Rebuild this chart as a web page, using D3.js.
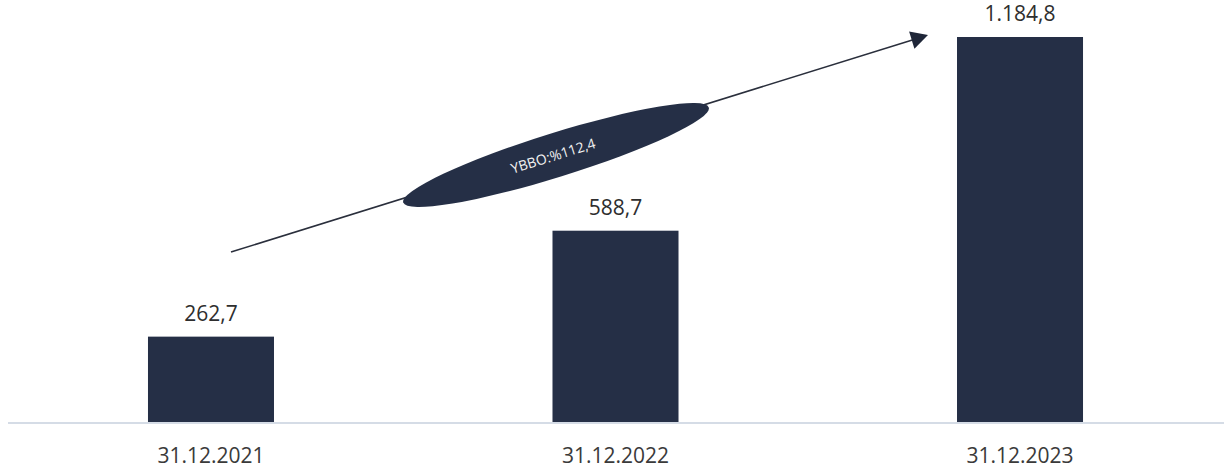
<!DOCTYPE html>
<html>
<head>
<meta charset="utf-8">
<script src="https://cdn.jsdelivr.net/npm/d3@7"></script>
<style>
  html, body { margin: 0; padding: 0; background: #fff; }
  svg { display: block; }
</style>
</head>
<body>
<svg id="chart" width="1229" height="474"></svg>
<script>
// Year-end totals
const categories = ["31.12.2021", "31.12.2022", "31.12.2023"];
const values = [262.7, 588.7, 1184.8];
const valueLabels = ["262,7", "588,7", "1.184,8"];
const growthLabel = "YBBO:%112,4";

const svg = d3.select("#chart");

const x = d3.scaleBand()
  .domain(categories)
  .range([6.4, 1224.6])
  .paddingInner(0.6885)
  .paddingOuter(0.35);

const baseY = 422;
const y = d3.scaleLinear().domain([0, 1184.8]).range([baseY, 37]);

const barColor = "#252f46";
const font = "'Open Sans', sans-serif";

// baseline
svg.append("line")
  .attr("x1", 8).attr("x2", 1224)
  .attr("y1", baseY + 1).attr("y2", baseY + 1)
  .attr("stroke", "#d5dce6").attr("stroke-width", 2);

// bars
svg.selectAll("rect.bar")
  .data(values)
  .join("rect")
  .attr("class", "bar")
  .attr("x", (d, i) => x(categories[i]))
  .attr("width", x.bandwidth())
  .attr("y", d => y(d))
  .attr("height", d => baseY - y(d))
  .attr("fill", barColor);

// value labels
svg.selectAll("text.val")
  .data(values)
  .join("text")
  .attr("class", "val")
  .attr("x", (d, i) => x(categories[i]) + x.bandwidth() / 2)
  .attr("y", d => y(d) - 16)
  .attr("text-anchor", "middle")
  .attr("font-family", font)
  .attr("font-size", 21)
  .attr("fill", "#2e2e2e")
  .text((d, i) => valueLabels[i]);

// category labels
svg.selectAll("text.cat")
  .data(categories)
  .join("text")
  .attr("class", "cat")
  .attr("x", d => x(d) + x.bandwidth() / 2)
  .attr("y", 463)
  .attr("text-anchor", "middle")
  .attr("font-family", font)
  .attr("font-size", 21)
  .attr("fill", "#3a3a3a")
  .text(d => d);

// growth arrow
const a0 = [231, 252], a1 = [928, 35];
const angle = Math.atan2(a1[1] - a0[1], a1[0] - a0[0]) * 180 / Math.PI;

svg.append("line")
  .attr("x1", a0[0]).attr("y1", a0[1])
  .attr("x2", a1[0] - 6).attr("y2", a1[1] + 2)
  .attr("stroke", "#2a2f3c").attr("stroke-width", 1.6);

svg.append("path")
  .attr("d", "M-17,-9 L0,0 L-17,9 z")
  .attr("transform", `translate(${a1[0]},${a1[1]}) rotate(${angle})`)
  .attr("fill", "#1f2638");

// ellipse with the growth rate
const eg = svg.append("g").attr("transform", `translate(556,155) rotate(${angle})`);
eg.append("ellipse")
  .attr("rx", 160).attr("ry", 22)
  .attr("fill", barColor);
eg.append("text")
  .attr("x", -3).attr("y", 5)
  .attr("text-anchor", "middle")
  .attr("font-family", font)
  .attr("font-size", 14)
  .attr("fill", "#f2f2f2")
  .text(growthLabel);
</script>
</body>
</html>
